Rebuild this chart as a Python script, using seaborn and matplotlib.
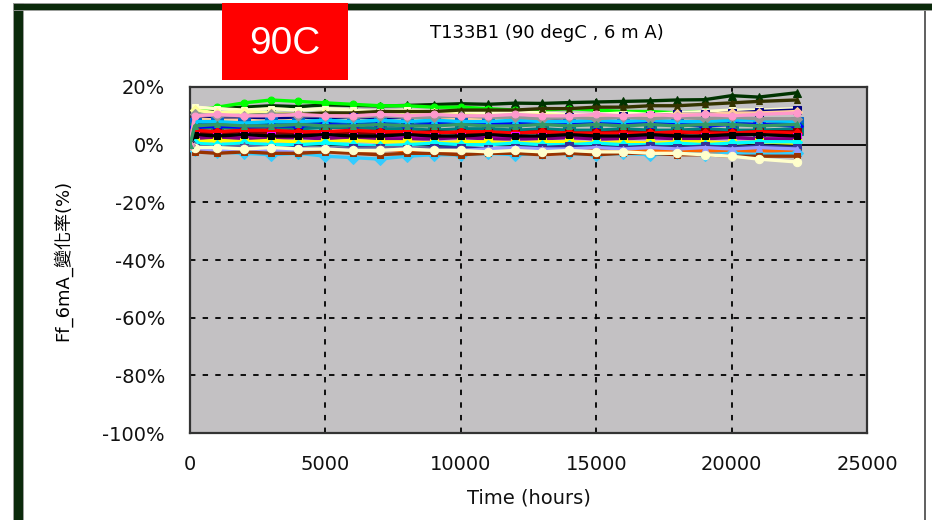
import matplotlib
matplotlib.use("Agg")
import matplotlib.pyplot as plt
from matplotlib.patches import Rectangle
from matplotlib.lines import Line2D
import seaborn as sns
import pandas as pd

# ---------------- data ----------------
hours = [0, 170, 1000, 2000, 3000, 4000, 5000, 6000, 7000, 8000, 9000, 10000,
         11000, 12000, 13000, 14000, 15000, 16000, 17000, 18000, 19000, 20000, 21000, 22400]

s01 = [0, 11.5, 12.5, 13.0, 13.5, 13.2, 13.8, 13.6, 13.4, 13.6, 13.9, 14.2, 14.0, 14.4, 14.3, 14.6, 14.8, 15.0, 15.2, 15.5, 15.6, 17.0, 16.5, 18.0]
s02 = [0, 12, 13, 14.5, 15.5, 15, 14.5, 14, 13.5, 13.5, 13, 13, 12.5, 12, 12, 12.5, 12, 11.5, 11.5, 11, 11.5, 11, 11.5, 12]
s03 = [0, 13, 12.5, 12, 12.5, 12, 12.5, 12, 11.5, 12, 11.5, 11.5, 11, 11.5, 11, 10.5, 10.5, 11, 10.5, 11, 11.5, 12, 12, 12.5]
s04 = [0, 12, 11, 11.5, 11, 10.5, 11, 10.5, 10, 10.5, 11, 10.5, 10, 10, 10.5, 10, 10, 9.5, 10, 10, 10.5, 11, 11, 11.5]
s05 = [0, 10, 9.5, 10, 10.5, 10.5, 11, 11, 11.5, 11.5, 11.5, 12, 12, 12, 12.5, 12.5, 13, 13, 13.5, 13.5, 14, 14.5, 15, 15.5]
s06 = [0, 9, 9.5, 9, 9.5, 9, 9, 9.5, 9, 9, 9.5, 9, 9, 9.5, 9, 9.5, 9.5, 10, 10, 10.5, 10.5, 11, 11.5, 12]
s07 = [0, 9, 8.5, 8.5, 8, 8.5, 8, 8.5, 8, 8.5, 8.5, 9, 9, 9, 9.5, 9.5, 9.5, 10, 10, 10.5, 10.5, 11, 11, 11.5]
s08 = [0, 7, 7.5, 7, 7.5, 7, 7.5, 7, 7.5, 8, 7.5, 7.5, 8, 7.5, 7.5, 7, 7.5, 7, 7.5, 7, 7, 7.5, 7, 7.5]
s09 = [0, 5.5, 6, 5.5, 6, 5.5, 6, 6, 5.5, 5.5, 5, 5.5, 5.5, 5, 5.5, 5, 5, 5.5, 5, 5, 5.5, 5, 5, 5.5]
s10 = [0, 6, 6.5, 6, 6.5, 6.5, 7, 6.5, 7, 6.5, 7, 7.5, 7, 7, 7.5, 7, 7, 7.5, 7, 7, 6.5, 7, 7, 6.5]
s11 = [0, 8, 8, 7.5, 8, 8, 8.5, 8, 8.5, 8, 8.5, 8, 8, 8.5, 8, 8, 8.5, 8, 8.5, 8, 8, 8.5, 8.5, 8]
s12 = [0, 4, 4, 4.5, 4, 4, 4.5, 4, 4, 4, 4.5, 4, 4, 4, 4.5, 4, 4, 4.5, 4, 4, 4.5, 4, 4.5, 4.5]
s13 = [0, 5, 4.5, 5, 5, 4.5, 4.5, 5, 4.5, 4.5, 4, 4.5, 4.5, 4, 4.5, 4, 4, 4, 4, 4.5, 4, 4, 4.5, 4]
s14 = [0, 3, 2.5, 3, 3, 2.5, 3, 2.5, 2.5, 3, 2.5, 2.5, 2.5, 3, 2.5, 2.5, 2, 2.5, 2.5, 2, 2.5, 2.5, 2, 2.5]
s15 = [0, 2, 2.5, 2, 2, 2.5, 2, 2.5, 2, 2, 2, 2.5, 2, 2, 2, 2.5, 2, 2, 2.5, 2, 2, 2.5, 2, 2]
s16 = [0, 1, 1.5, 1, 1.5, 1, 1, 1.5, 1, 1, 0.5, 1, 1, 0.5, 1, 1, 0.5, 1, 0.5, 1, 1, 0.5, 1, 0.5]
s17 = [0, 0.5, 0, 0.5, 0, 0, 0.5, 0, -0.5, 0, 0.5, 0, 0, 0.5, 0, 0, 0.5, 0, 0, 0.5, 0, 0.5, 1, 1]
s18 = [0, -1, -1.5, -1, -1.5, -1, -1.5, -1, -1, -1.5, -1, -1, -1.5, -1, -1, -0.5, -1, -1, -0.5, -1, -0.5, -1, -0.5, -1]
s19 = [0, -0.5, -1, -0.5, -1, -1.5, -1, -1.5, -1, -1, -1.5, -2, -1.5, -1.5, -2, -1.5, -2, -2, -1.5, -2, -2, -2.5, -2, -2.5]
s20 = [0, -1.5, -2, -2, -1.5, -2, -2, -2.5, -2, -2, -2.5, -2, -2.5, -2, -2, -2.5, -2, -2.5, -2, -2.5, -2, -2.5, -2, -2.5]
s21 = [0, -2, -2.5, -3, -3.5, -3, -4, -4.5, -5, -4, -3.5, -3.5, -3, -3.5, -3, -3, -3.5, -3, -3.5, -3, -3.5, -3, -3.5, -3]
s22 = [0, -1.5, -2, -1.5, -2, -2, -1.5, -2, -2, -1.5, -2, -2, -1.5, -1, -1.5, -1.5, -1, -1.5, -1, -1.5, -1, -1.5, -1, -1.5]
s23 = [0, -2.5, -3, -2.5, -3, -3, -2.5, -3, -3.5, -3, -3, -3.5, -3, -3, -3.5, -3, -3.5, -3, -3, -3.5, -3.5, -4, -4, -4]
s24 = [0, -1, -1, -1.5, -1, -1.5, -1.5, -2, -2, -1.5, -2, -2, -2.5, -2, -2.5, -2, -2.5, -2.5, -3, -3, -3.5, -4, -5, -6]
s25 = [0, 10.5, 10, 10, 10.5, 10, 10, 9.5, 10, 9.5, 9.5, 10, 9.5, 9.5, 9, 9.5, 9, 9.5, 9, 9.5, 9, 9.5, 9, 9]
s26 = [0, 3.5, 3, 3.5, 3, 3, 3.5, 3, 3, 3.5, 3, 3, 3.5, 3, 3, 3.5, 3, 3, 3.5, 3, 3, 3.5, 3.5, 3]
s27 = [0, 10, 10.5, 10, 10, 10.5, 10, 10, 10.5, 10, 10.5, 10, 10, 10.5, 10, 10, 10.5, 10, 10.5, 10, 10.5, 10, 10.5, 11]
s28 = [0, 6.5, 7, 6.5, 6.5, 7, 6.5, 6.5, 7, 6.5, 6.5, 7, 6.5, 6.5, 7, 6.5, 7, 6.5, 7, 6.5, 7, 7, 6.5, 7]

series = [s01, s02, s03, s04, s05, s06, s07, s08, s09, s10, s11, s12, s13, s14,
          s15, s16, s17, s18, s19, s20, s21, s22, s23, s24, s25, s26, s27, s28]

y_ticks = [20, 0, -20, -40, -60, -80, -100]
x_ticks = [0, 5000, 10000, 15000, 20000, 25000]

# ---------------- styles ----------------
colors = ["#003300", "#00ff00", "#ffffcc", "#ffff99", "#333300", "#000080", "#ffcc99",
          "#0066cc", "#008080", "#0000ff", "#00ccff", "#800000", "#ff0000", "#ff00ff",
          "#800080", "#ffff00", "#00ffff", "#333399", "#666699", "#ff6600", "#33ccff",
          "#9999ff", "#993300", "#ffffcc", "#969696", "#000000", "#ff99cc", "#339966"]
markers = ["^", "o", "s", "D", "^", "s", "D", "s", "s", "D", "^", "s", "D", "s",
           "o", "s", "D", "s", "^", "s", "D", "^", "s", "o", "D", "s", "o", "^"]
msizes = [6, 5, 5, 5, 5, 6, 5, 9, 9, 6, 5, 6, 5, 6, 5, 6, 5, 6, 6, 5, 6, 5, 5, 6, 5, 5, 5, 5]

rows = []
for i, vals in enumerate(series):
    for h, v in zip(hours, vals):
        rows.append({"series": f"S{i+1:02d}", "hours": h, "value": v})
df = pd.DataFrame(rows)

fig = plt.figure(figsize=(9.32, 5.2), dpi=100)
fig.patch.set_facecolor("white")
ax = fig.add_axes([0.2039, 0.1673, 0.7264, 0.6654])
ax.set_facecolor("#c3c1c3")

# grid
for xv in x_ticks[1:-1]:
    ax.axvline(xv, color="black", lw=1.3, ls=(0, (3, 4)), zorder=1)
for yv in y_ticks[2:-1]:
    ax.axhline(yv, color="black", lw=1.3, ls=(0, (3, 4)), zorder=1)
ax.axhline(0, color="black", lw=1.3, zorder=1)

for i, name in enumerate(df["series"].unique()):
    sub = df[df["series"] == name]
    sns.lineplot(data=sub, x="hours", y="value", ax=ax, color=colors[i],
                 marker=markers[i], markersize=msizes[i], markeredgecolor=colors[i],
                 lw=2.4, legend=False, zorder=3, estimator=None)

ax.set_xlim(0, 25000)
ax.set_ylim(-100, 20)
ax.set_xticks(x_ticks)
ax.set_xticklabels([str(v) for v in x_ticks])
ax.set_yticks(y_ticks)
ax.set_yticklabels([f"{v}%" for v in y_ticks])
ax.tick_params(axis="both", length=0, labelsize=14, colors="#111111", pad=14)
ax.tick_params(axis="y", pad=18)
ax.tick_params(axis="x", pad=16)
for sp in ax.spines.values():
    sp.set_color("#333333")
    sp.set_linewidth(1.6)

ax.set_xlabel("Time (hours)", fontsize=14, labelpad=10, color="#111111")
ax.set_ylabel("Ff_6mA_變化率(%)", fontsize=13, labelpad=22,
              family=["DejaVu Sans", "Noto Sans CJK TC"])

# frame decorations
W, H = 932, 520
fig.add_artist(Rectangle((13 / W, 0), 10 / W, (H - 3) / H, transform=fig.transFigure,
                         facecolor="#0b2a0b", edgecolor="#a0a0a0", lw=0.6, zorder=5))
fig.add_artist(Rectangle((13 / W, (H - 10) / H), 1 - 13 / W, 7 / H, transform=fig.transFigure,
                         facecolor="#0b2a0b", edgecolor="#a0a0a0", lw=0.6, zorder=5))
fig.add_artist(Line2D([925 / W, 925 / W], [0, (H - 10) / H], transform=fig.transFigure,
                      color="#444444", lw=1.2))
fig.add_artist(Rectangle((222 / W, (H - 80) / H), 126 / W, 77 / H, transform=fig.transFigure,
                         facecolor="#ff0000", edgecolor="none", zorder=6))
fig.text(285 / W, 1 - 44 / H, "90C", color="white", fontsize=28, ha="center", va="center",
         family="Liberation Sans", zorder=7)
fig.text(547 / W, 1 - 33 / H, "T133B1 (90 degC , 6 m A)", color="black", fontsize=13,
         ha="center", va="center")

fig.savefig("out.png", dpi=100)
